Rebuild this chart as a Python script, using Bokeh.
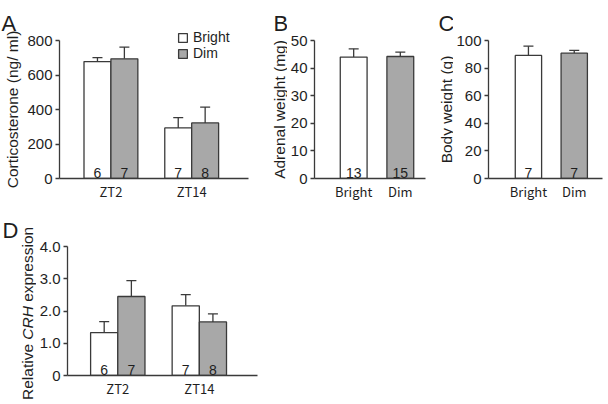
import math
from bokeh.plotting import figure
from bokeh.models import (ColumnDataSource, Range1d, FixedTicker, Whisker, TeeHead,
                          Label, Legend, LegendItem)
from bokeh.layouts import column, row
from bokeh.embed import file_html
from bokeh.resources import INLINE
from bokeh.core.properties import value

# ---------------- data ----------------
groups = ["ZT2", "ZT14"]
conditions = ["Bright", "Dim"]

cort_bright = [678, 293]
cort_bright_sem = [23, 60]
cort_dim = [694, 322]
cort_dim_sem = [68, 92]
cort_n_bright = [6, 7]
cort_n_dim = [7, 8]

adrenal_mean = [44.0, 44.2]
adrenal_sem = [3.0, 1.6]
adrenal_n = [13, 15]

body_mean = [89.2, 90.8]
body_sem = [6.7, 2.0]
body_n = [7, 7]

crh_bright = [1.33, 2.16]
crh_bright_sem = [0.34, 0.35]
crh_dim = [2.45, 1.66]
crh_dim_sem = [0.49, 0.25]
crh_n_bright = [6, 7]
crh_n_dim = [7, 8]

a_ticks = [0, 200, 400, 600, 800]
b_ticks = [0, 10, 20, 30, 40, 50]
c_ticks = [0, 20, 40, 60, 80, 100]
d_ticks = [0, 1, 2, 3, 4]
d_tick_labels = ["0", "1.0", "2.0", "3.0", "4.0"]

a_ylabel = "Corticosterone (ng/ ml)"
b_ylabel = "Adrenal weight (mg)"
c_ylabel = "Body weight (g)"
d_ylabel_parts = ["Relative", "CRH", "expression"]

# ---------------- styles ----------------
FONT = "Liberation Sans"
CAT_FONT = "Noto Sans CJK JP"
AXIS_C = "#3a3a3a"
BAR_LINE = "#3a3a3a"
BRIGHT_FILL = "white"
DIM_FILL = "#a8a8a8"
TEXT_C = "#1e1e1e"
LAB_SIZE = "15.5px"
TOP_H = 206
BOT_H = 194


def make_fig(w, h, xr, yr, bl, br, bt, bb):
    p = figure(width=w, height=h, x_range=Range1d(*xr), y_range=Range1d(*yr),
               output_backend="svg", toolbar_location=None, tools="",
               min_border_left=bl, min_border_right=br,
               min_border_top=bt, min_border_bottom=bb)
    p.frame_align = False
    p.outline_line_color = None
    p.grid.visible = False
    p.background_fill_color = "white"
    p.border_fill_color = "white"
    for ax in (p.xaxis[0], p.yaxis[0]):
        ax.axis_line_color = AXIS_C
        ax.axis_line_width = 1.3
        ax.major_tick_line_color = AXIS_C
        ax.major_tick_line_width = 1.3
        ax.minor_tick_line_color = None
        ax.major_label_text_color = TEXT_C
    p.yaxis.major_tick_out = 4
    p.yaxis.major_tick_in = 0
    p.yaxis.major_label_text_font = FONT
    p.yaxis.major_label_text_font_size = "15px"
    p.yaxis.major_label_standoff = 3
    p.xaxis.major_tick_out = 0
    p.xaxis.major_tick_in = 0
    p.xaxis.major_tick_line_color = None
    p.xaxis.major_label_text_font = CAT_FONT
    p.xaxis.major_label_text_font_size = "13px"
    p.xaxis.major_label_standoff = 3
    return p


def text_fig(w, h):
    # a plain strip whose data units are its own pixels (y downward)
    p = figure(width=w, height=h, x_range=Range1d(0, w), y_range=Range1d(h, 0),
               output_backend="svg", toolbar_location=None, tools="",
               x_axis_type=None, y_axis_type=None,
               min_border_left=0, min_border_right=0, min_border_top=0, min_border_bottom=0)
    p.frame_align = False
    p.outline_line_color = None
    p.background_fill_color = "white"
    p.border_fill_color = "white"
    return p


def add_bars(p, xs, tops, sems, ns, fill, width):
    src = ColumnDataSource(dict(x=xs, top=tops, upper=[t + s for t, s in zip(tops, sems)],
                                n=[str(v) for v in ns], base=[0] * len(xs)))
    r = p.vbar(x="x", top="top", bottom=0, width=width, source=src,
               fill_color=fill, line_color=BAR_LINE, line_width=1.3)
    w = Whisker(base="x", lower="top", upper="upper", source=src, dimension="height",
                line_color=BAR_LINE, line_width=1.3,
                upper_head=TeeHead(size=10, line_color=BAR_LINE, line_width=1.3),
                lower_head=None)
    p.add_layout(w)
    p.text(x="x", y="base", text="n", source=src, text_align="center",
           text_baseline="alphabetic", y_offset=-6, text_font=value(FONT),
           text_font_size="14px", text_color=TEXT_C)
    return r


def letter(p, txt, x, y):
    p.add_layout(Label(x=x, y=y, text=txt, text_font=FONT, text_font_size="22px",
                       text_color=TEXT_C, text_align="left", text_baseline="alphabetic"))


def vlabel(p, txt, x, y, style="normal", align="center"):
    p.add_layout(Label(x=x, y=y, text=txt, angle=math.pi / 2, text_font=FONT,
                       text_font_size=LAB_SIZE, text_font_style=style,
                       text_color=TEXT_C, text_align=align, text_baseline="middle"))


# ---------------- panel A ----------------
group_x = [1, 4]
labA = text_fig(24, TOP_H)
letter(labA, "A", 1, 23)
vlabel(labA, a_ylabel, 12, 109)

# frame reaches a little above 800 so the legend can sit there; the axis stops at 800
pA = make_fig(234, TOP_H, (-0.91, 6.11), (0, 863.8), 33, 10, 29, 28)
pA.yaxis.bounds = (0, 800)
pA.yaxis.ticker = FixedTicker(ticks=a_ticks)
pA.xaxis.ticker = FixedTicker(ticks=group_x)
pA.xaxis.major_label_overrides = {g: name for g, name in zip(group_x, groups)}
rb = add_bars(pA, [g - 0.5 for g in group_x], cort_bright, cort_bright_sem, cort_n_bright, BRIGHT_FILL, 1)
rd = add_bars(pA, [g + 0.5 for g in group_x], cort_dim, cort_dim_sem, cort_n_dim, DIM_FILL, 1)
legend = Legend(items=[LegendItem(label=conditions[0], renderers=[rb]),
                       LegendItem(label=conditions[1], renderers=[rd])],
                location=(118, 117), glyph_width=11, glyph_height=11,
                label_text_font=FONT, label_text_font_size="14px",
                label_text_color=TEXT_C, label_standoff=5, label_height=12,
                spacing=0, padding=0, margin=0, border_line_color=None,
                background_fill_alpha=0)
pA.add_layout(legend)

# ---------------- panel B ----------------
cond_x = [1, 2]
labB = text_fig(29, TOP_H)
letter(labB, "B", 15, 23)
vlabel(labB, b_ylabel, 21, 109)

pB = make_fig(148, TOP_H, (0.16, 2.54), (0, 50), 26, 10, 40, 28)
pB.yaxis.ticker = FixedTicker(ticks=b_ticks)
pB.xaxis.ticker = FixedTicker(ticks=cond_x)
pB.xaxis.major_label_overrides = {c: name for c, name in zip(cond_x, conditions)}
add_bars(pB, cond_x[:1], adrenal_mean[:1], adrenal_sem[:1], adrenal_n[:1], BRIGHT_FILL, 0.575)
add_bars(pB, cond_x[1:], adrenal_mean[1:], adrenal_sem[1:], adrenal_n[1:], DIM_FILL, 0.575)

# ---------------- panel C ----------------
labC = text_fig(18, TOP_H)
letter(labC, "C", 3, 23)
vlabel(labC, c_ylabel, 10.5, 109)

pC = make_fig(153, TOP_H, (0.128, 2.617), (0, 100), 32, 4, 40, 28)
pC.yaxis.ticker = FixedTicker(ticks=c_ticks)
pC.xaxis.ticker = FixedTicker(ticks=cond_x)
pC.xaxis.major_label_overrides = {c: name for c, name in zip(cond_x, conditions)}
add_bars(pC, cond_x[:1], body_mean[:1], body_sem[:1], body_n[:1], BRIGHT_FILL, 0.575)
add_bars(pC, cond_x[1:], body_mean[1:], body_sem[1:], body_n[1:], DIM_FILL, 0.575)

# ---------------- panel D ----------------
labD = text_fig(36, BOT_H)
letter(labD, "D", 2, 24)
vlabel(labD, d_ylabel_parts[0], 27, 193.5, align="left")
vlabel(labD, d_ylabel_parts[1], 27, 133.2, style="italic", align="left")
vlabel(labD, d_ylabel_parts[2], 27, 95.3, align="left")

pD = make_fig(231, BOT_H, (-0.85, 6.14), (0, 4), 31, 10, 40, 20)
pD.yaxis.ticker = FixedTicker(ticks=d_ticks)
pD.yaxis.major_label_overrides = {t: s for t, s in zip(d_ticks, d_tick_labels)}
pD.xaxis.ticker = FixedTicker(ticks=group_x)
pD.xaxis.major_label_overrides = {g: name for g, name in zip(group_x, groups)}
add_bars(pD, [g - 0.5 for g in group_x], crh_bright, crh_bright_sem, crh_n_bright, BRIGHT_FILL, 1)
add_bars(pD, [g + 0.5 for g in group_x], crh_dim, crh_dim_sem, crh_n_dim, DIM_FILL, 1)

layout = column(row(labA, pA, labB, pB, labC, pC), row(labD, pD))
open("out.html", "w").write(file_html(layout, INLINE))
